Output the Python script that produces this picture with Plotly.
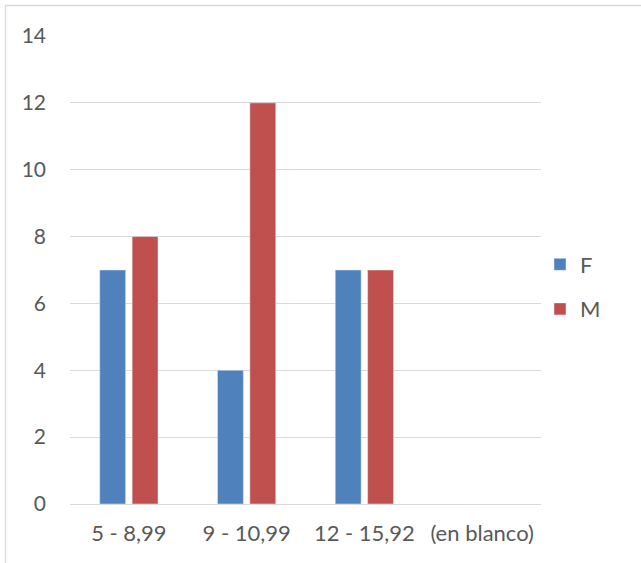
import plotly.graph_objects as go

categories = ["5 - 8,99", "9 - 10,99", "12 - 15,92", "(en blanco)"]
f_values = [7, 4, 7, None]
m_values = [8, 12, 7, None]
y_ticks = [0, 2, 4, 6, 8, 10, 12, 14]

W, H = 641, 563
L, T = 70, 36
pw, ph = 471, 468
R = W - L - pw
B = H - T - ph

def px_x(p):
    return (p - L) / pw

def px_y(p):
    return (T + ph - p) / ph

xfont = dict(family="Lato, Open Sans, sans-serif", size=22, color="#595959")
yfont = dict(family="Lato, Open Sans, sans-serif", size=21, color="#595959")

fig = go.Figure()
fig.add_trace(go.Bar(x=categories, y=f_values, name="F", marker_color="#4F81BD",
                     legendgroup="F"))
fig.add_trace(go.Bar(x=categories, y=m_values, name="M", marker_color="#C0504D",
                     legendgroup="M"))

fig.update_layout(
    width=W, height=H,
    margin=dict(l=L, r=R, t=T, b=B),
    paper_bgcolor="white", plot_bgcolor="white",
    font=xfont,
    barmode="group", bargap=0.45, bargroupgap=0.2,
    showlegend=True,
    legend=dict(x=px_x(540), y=px_y(287), xanchor="left", yanchor="middle",
                tracegroupgap=13, font=dict(size=22, color="#595959"),
                itemwidth=30, bgcolor="rgba(0,0,0,0)"),
    xaxis=dict(showgrid=False, showline=False, ticks="", ticklabelstandoff=14,
               tickfont=xfont),
    yaxis=dict(range=[0, 14], tickvals=y_ticks, showgrid=True, gridcolor="#D9D9D9",
               gridwidth=1, zeroline=True, zerolinecolor="#D9D9D9", zerolinewidth=1,
               showline=False, ticks="", ticklabelstandoff=23, tickfont=yfont),
    shapes=[dict(type="path", xref="paper", yref="paper",
                 path=f"M {px_x(5.5)} {px_y(600)} L {px_x(5.5)} {px_y(5.5)} L {px_x(700)} {px_y(5.5)}",
                 line=dict(color="#D9D9D9", width=1.3))],
)

fig.write_html("out.html",
               config={"displayModeBar": False},
               post_script="document.body.style.margin='0';")
